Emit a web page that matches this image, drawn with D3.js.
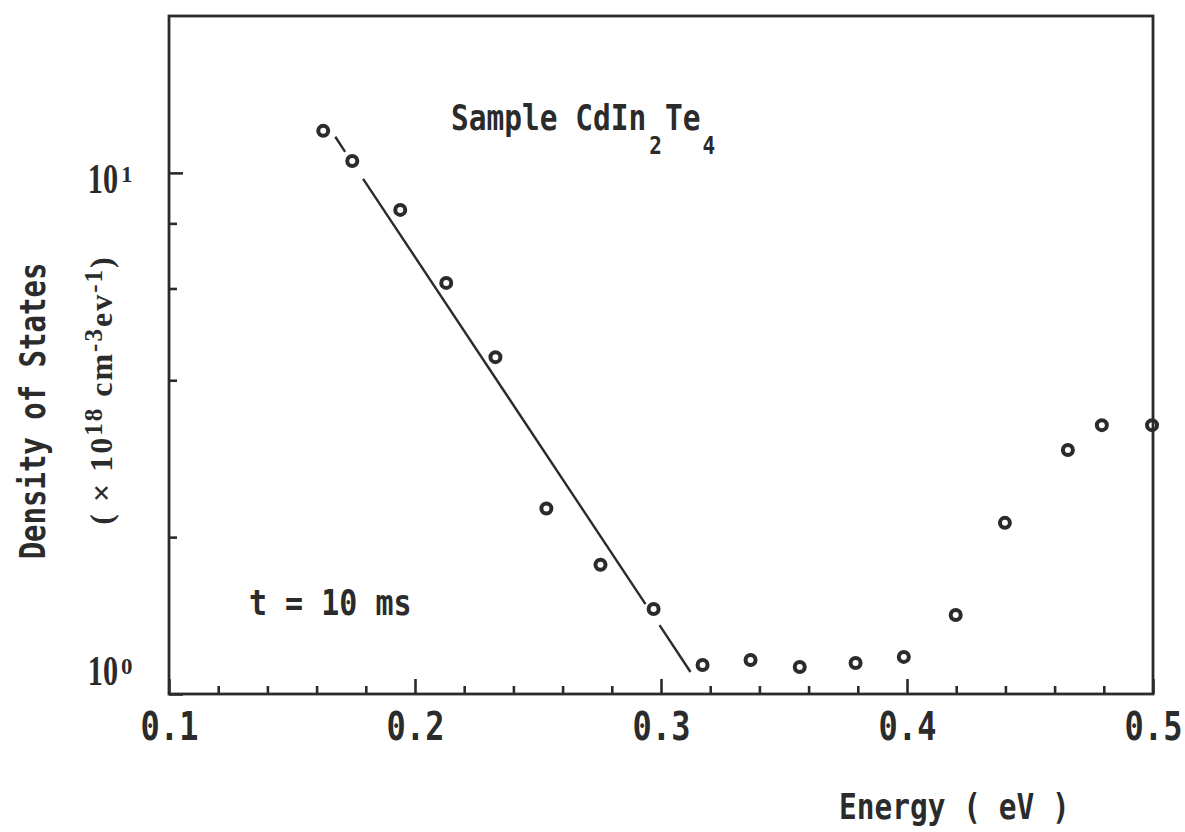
<!DOCTYPE html>
<html>
<head>
<meta charset="utf-8">
<script src="https://cdn.jsdelivr.net/npm/d3@7"></script>
<style>
  html, body { margin: 0; padding: 0; background: #fff; }
  svg { display: block; }
  .mono { font-family: "DejaVu Sans Mono", monospace; font-weight: bold; fill: #2b2b2b; }
  .serif { font-family: "Liberation Serif", "DejaVu Serif", serif; fill: #2b2b2b; }
</style>
</head>
<body>
<svg id="chart" width="1185" height="832"></svg>
<script>
// ---- data ----
const energy  = [0.1627, 0.1745, 0.1940, 0.2127, 0.2327, 0.2534, 0.2754, 0.2970, 0.3169,
                 0.3364, 0.3564, 0.3791, 0.3987, 0.4198, 0.4398, 0.4654, 0.4792, 0.4996];
const density = [12.04, 10.54, 8.49, 6.15, 4.43, 2.27, 1.77, 1.456, 1.137,
                 1.162, 1.127, 1.147, 1.178, 1.418, 2.13, 2.94, 3.28, 3.28];
// straight-line fit, drawn as broken segments (plotter lifts pen near markers)
const fitSegmentsE = [[0.1676, 0.1716], [0.1789, 0.2937], [0.2994, 0.3120]];
const fitSegmentsN = [[11.73, 10.97], [9.74, 1.488], [1.356, 1.102]];
const xMajorTicks = [0.1, 0.2, 0.3, 0.4, 0.5];
const xMinorTicks = [0.12, 0.14, 0.16, 0.18, 0.22, 0.24, 0.26, 0.28, 0.32, 0.34, 0.36, 0.38, 0.42, 0.44, 0.46, 0.48];
const yMajorTicks = [1, 10];
const yMinorTicks = [2, 4, 6, 8];
const yTickExponents = ["0", "1"];

const ink = "#2b2b2b";
const svg = d3.select("#chart");

const x = d3.scaleLinear().domain([0.1, 0.5]).range([169, 1153]);
const y = d3.scaleLog().domain([1, 20]).range([694, 16]);

// frame
svg.append("rect")
  .attr("x", x(0.1)).attr("y", y(20))
  .attr("width", x(0.5) - x(0.1)).attr("height", y(1) - y(20))
  .attr("fill", "none").attr("stroke", ink).attr("stroke-width", 2.8);

// x ticks (inward)
const gxMinor = svg.append("g").attr("transform", `translate(0,${y(1)})`)
  .call(d3.axisBottom(x).tickValues(xMinorTicks).tickSize(-8).tickFormat(""));
const gxMajor = svg.append("g").attr("transform", `translate(0,${y(1)})`)
  .call(d3.axisBottom(x).tickValues(xMajorTicks).tickSize(-15).tickFormat(d3.format(".1f")));
[gxMinor, gxMajor].forEach(g => {
  g.select(".domain").remove();
  g.selectAll(".tick line").attr("stroke", ink).attr("stroke-width", 2.6);
});
gxMajor.selectAll(".tick text")
  .attr("class", "mono")
  .attr("y", 0).attr("dy", 0)
  .attr("transform", "translate(0,46) scale(1,1.22)")
  .style("font-size", "32px")
  .style("font-family", "'DejaVu Sans Mono', monospace")
  .attr("fill", ink);

// y ticks (inward)
const gyMinor = svg.append("g").attr("transform", `translate(${x(0.1)},0)`)
  .call(d3.axisLeft(y).tickValues(yMinorTicks).tickSize(-8).tickFormat(""));
const gyMajor = svg.append("g").attr("transform", `translate(${x(0.1)},0)`)
  .call(d3.axisLeft(y).tickValues(yMajorTicks).tickSize(-14).tickFormat(""));
[gyMinor, gyMajor].forEach(g => {
  g.select(".domain").remove();
  g.selectAll(".tick line").attr("stroke", ink).attr("stroke-width", 2.6);
});
// y tick labels 10^0, 10^1
yMajorTicks.forEach((v, i) => {
  const base = Math.min(y(v) + 20, 685);
  svg.append("text").attr("class", "serif")
    .attr("transform", `translate(118,${base}) scale(0.72,1)`)
    .attr("text-anchor", "end")
    .style("font-size", "42px")
    .style("font-weight", "bold")
    .text("10");
  svg.append("text").attr("class", "serif")
    .attr("x", 121).attr("y", base - 11)
    .style("font-size", "23px")
    .style("font-weight", "bold")
    .text(yTickExponents[i]);
});

// fit line segments
const line = d3.line().x(d => x(d[0])).y(d => y(d[1]));
fitSegmentsE.forEach((seg, i) => {
  const pts = seg.map((e, j) => [e, fitSegmentsN[i][j]]);
  svg.append("path").attr("d", line(pts))
    .attr("fill", "none").attr("stroke", ink).attr("stroke-width", 2.4);
});

// data markers
svg.append("g").selectAll("circle")
  .data(energy.map((e, i) => [e, density[i]]))
  .join("circle")
  .attr("cx", d => x(d[0])).attr("cy", d => y(d[1]))
  .attr("r", 5)
  .attr("fill", "none").attr("stroke", ink).attr("stroke-width", 4);

// annotations
const sample = svg.append("text").attr("class", "mono")
  .attr("transform", "translate(451,130) scale(1,1.2)")
  .style("font-size", "29.5px");
sample.append("tspan").text("Sample CdIn");
sample.append("tspan").attr("dx", 3).attr("dy", 20).style("font-size", "21px").text("2");
sample.append("tspan").attr("dx", 3).attr("dy", -20).text("Te");
sample.append("tspan").attr("dx", 2).attr("dy", 20).style("font-size", "21px").text("4");

svg.append("text").attr("class", "mono")
  .attr("transform", "translate(249,615) scale(1,1.2)")
  .style("font-size", "30px")
  .attr("xml:space", "preserve")
  .text("t = 10 ms");

// axis titles
svg.append("text").attr("class", "mono")
  .attr("transform", "translate(839,819) scale(1,1.2)")
  .style("font-size", "29.5px")
  .attr("xml:space", "preserve")
  .text("Energy ( eV )");

svg.append("text").attr("class", "mono")
  .attr("transform", "translate(45,411) rotate(-90) scale(1,1.2)")
  .attr("text-anchor", "middle")
  .style("font-size", "29px")
  .text("Density of States");

const unit = svg.append("text").attr("class", "serif")
  .attr("transform", "translate(112,390) rotate(-90)")
  .attr("text-anchor", "middle")
  .style("font-size", "32px")
  .style("font-weight", "bold")
  .style("letter-spacing", "2px")
  .attr("xml:space", "preserve");
unit.append("tspan").text("( × 10");
unit.append("tspan").attr("dy", -10).style("font-size", "25px").text("18");
unit.append("tspan").attr("dy", 10).text(" cm");
unit.append("tspan").attr("dy", -10).style("font-size", "25px").text("-3");
unit.append("tspan").attr("dy", 10).text("ev");
unit.append("tspan").attr("dy", -10).style("font-size", "25px").text("-1");
unit.append("tspan").attr("dy", 10).text(")");
</script>
</body>
</html>
